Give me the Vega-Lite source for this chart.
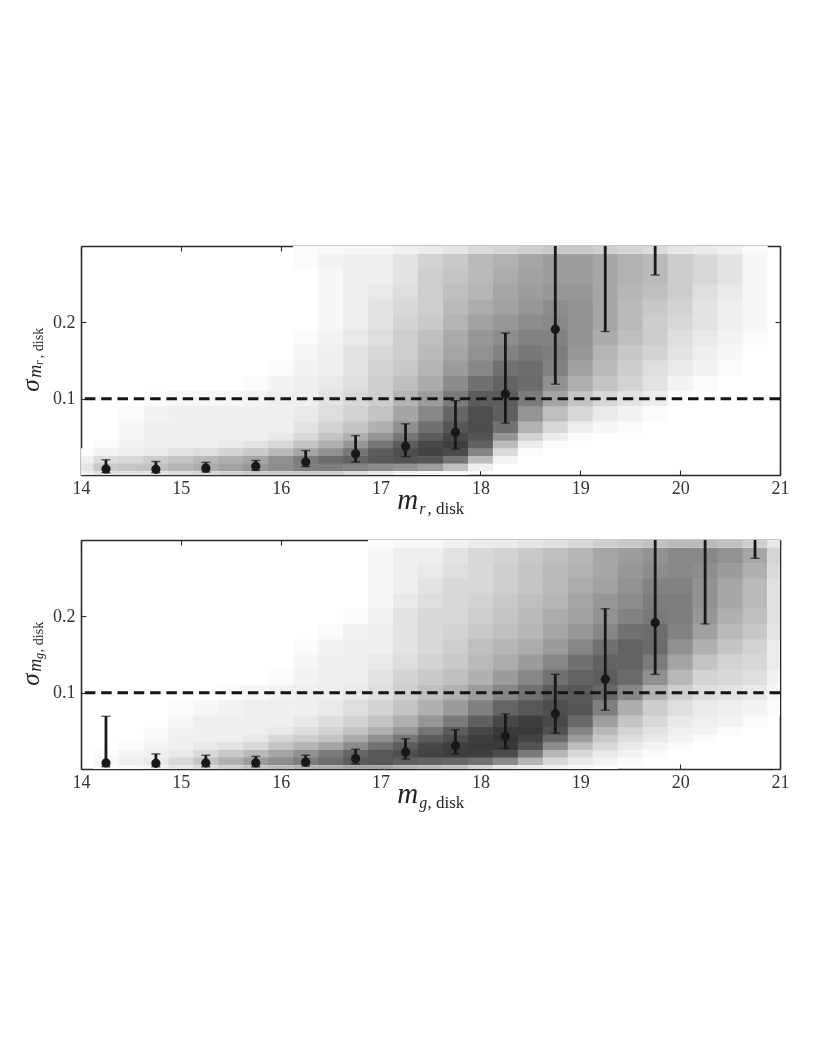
{"$schema":"https://vega.github.io/schema/vega-lite/v6.json","background":"white","padding":{"left":19,"top":245,"right":30,"bottom":5},"spacing":22,
"config":{"view":{"stroke":null},"axis":{"grid":false,"title":null,"zindex":1,"domainColor":"#2a2a2a","domainWidth":1.6,"tickColor":"#2a2a2a","tickWidth":1.1,"tickSize":-5,"labelFont":"Liberation Serif","labelFontSize":18,"labelColor":"#333333","labelFlush":false,"labelOverlap":false,"labelBound":false}},
"datasets":{
"bands":[{"s":0.005,"a":0,"b":0.015},{"s":0.015,"a":0.005,"b":0.025},{"s":0.025,"a":0.015,"b":0.035},{"s":0.035,"a":0.025,"b":0.045},{"s":0.045,"a":0.035,"b":0.055},{"s":0.055,"a":0.045,"b":0.07},{"s":0.07,"a":0.055,"b":0.09},{"s":0.09,"a":0.07,"b":0.11},{"s":0.11,"a":0.09,"b":0.13},{"s":0.13,"a":0.11,"b":0.15},{"s":0.15,"a":0.13,"b":0.17},{"s":0.17,"a":0.15,"b":0.19},{"s":0.19,"a":0.17,"b":0.21},{"s":0.21,"a":0.19,"b":0.23},{"s":0.23,"a":0.21,"b":0.25},{"s":0.25,"a":0.23,"b":0.27},{"s":0.27,"a":0.25,"b":0.29},{"s":0.29,"a":0.27,"b":0.31}],
"r":[
{"m":14.125,"s":0.005,"v":3},{"m":14.375,"s":0.005,"v":3},{"m":14.625,"s":0.005,"v":3},{"m":14.875,"s":0.005,"v":3},{"m":15.125,"s":0.005,"v":4},{"m":15.375,"s":0.005,"v":4},{"m":15.625,"s":0.005,"v":5},{"m":15.875,"s":0.005,"v":5},{"m":16.125,"s":0.005,"v":5},{"m":16.375,"s":0.005,"v":5},{"m":16.625,"s":0.005,"v":4},{"m":16.875,"s":0.005,"v":3},{"m":17.125,"s":0.005,"v":2},{"m":17.375,"s":0.005,"v":1},{"m":17.625,"s":0.005,"v":1},
{"m":14.125,"s":0.015,"v":2},{"m":14.375,"s":0.015,"v":3},{"m":14.625,"s":0.015,"v":3},{"m":14.875,"s":0.015,"v":4},{"m":15.125,"s":0.015,"v":4},{"m":15.375,"s":0.015,"v":5},{"m":15.625,"s":0.015,"v":5},{"m":15.875,"s":0.015,"v":6},{"m":16.125,"s":0.015,"v":7},{"m":16.375,"s":0.015,"v":8},{"m":16.625,"s":0.015,"v":8},{"m":16.875,"s":0.015,"v":8},{"m":17.125,"s":0.015,"v":8},{"m":17.375,"s":0.015,"v":8},{"m":17.625,"s":0.015,"v":7},{"m":17.875,"s":0.015,"v":3},
{"m":14.125,"s":0.025,"v":1},{"m":14.375,"s":0.025,"v":1},{"m":14.625,"s":0.025,"v":1},{"m":14.875,"s":0.025,"v":2},{"m":15.125,"s":0.025,"v":2},{"m":15.375,"s":0.025,"v":3},{"m":15.625,"s":0.025,"v":3},{"m":15.875,"s":0.025,"v":4},{"m":16.125,"s":0.025,"v":5},{"m":16.375,"s":0.025,"v":6},{"m":16.625,"s":0.025,"v":7},{"m":16.875,"s":0.025,"v":8},{"m":17.125,"s":0.025,"v":9},{"m":17.375,"s":0.025,"v":9},{"m":17.625,"s":0.025,"v":9},{"m":17.875,"s":0.025,"v":7},{"m":18.125,"s":0.025,"v":2},
{"m":14.375,"s":0.035,"v":1},{"m":14.625,"s":0.035,"v":1},{"m":14.875,"s":0.035,"v":1},{"m":15.125,"s":0.035,"v":1},{"m":15.375,"s":0.035,"v":1},{"m":15.625,"s":0.035,"v":2},{"m":15.875,"s":0.035,"v":2},{"m":16.125,"s":0.035,"v":3},{"m":16.375,"s":0.035,"v":4},{"m":16.625,"s":0.035,"v":5},{"m":16.875,"s":0.035,"v":7},{"m":17.125,"s":0.035,"v":8},{"m":17.375,"s":0.035,"v":9},{"m":17.625,"s":0.035,"v":10},{"m":17.875,"s":0.035,"v":9},{"m":18.125,"s":0.035,"v":4},{"m":18.375,"s":0.035,"v":1},
{"m":14.625,"s":0.045,"v":1},{"m":14.875,"s":0.045,"v":1},{"m":15.125,"s":0.045,"v":1},{"m":15.375,"s":0.045,"v":1},{"m":15.625,"s":0.045,"v":1},{"m":15.875,"s":0.045,"v":1},{"m":16.125,"s":0.045,"v":2},{"m":16.375,"s":0.045,"v":3},{"m":16.625,"s":0.045,"v":4},{"m":16.875,"s":0.045,"v":5},{"m":17.125,"s":0.045,"v":7},{"m":17.375,"s":0.045,"v":8},{"m":17.625,"s":0.045,"v":9},{"m":17.875,"s":0.045,"v":10},{"m":18.125,"s":0.045,"v":6},{"m":18.375,"s":0.045,"v":2},{"m":18.625,"s":0.045,"v":1},
{"m":14.625,"s":0.055,"v":1},{"m":14.875,"s":0.055,"v":1},{"m":15.125,"s":0.055,"v":1},{"m":15.375,"s":0.055,"v":1},{"m":15.625,"s":0.055,"v":1},{"m":15.875,"s":0.055,"v":1},{"m":16.125,"s":0.055,"v":1},{"m":16.375,"s":0.055,"v":2},{"m":16.625,"s":0.055,"v":3},{"m":16.875,"s":0.055,"v":4},{"m":17.125,"s":0.055,"v":5},{"m":17.375,"s":0.055,"v":7},{"m":17.625,"s":0.055,"v":8},{"m":17.875,"s":0.055,"v":9},{"m":18.125,"s":0.055,"v":8},{"m":18.375,"s":0.055,"v":4},{"m":18.625,"s":0.055,"v":2},{"m":18.875,"s":0.055,"v":1},
{"m":14.625,"s":0.07,"v":1},{"m":14.875,"s":0.07,"v":1},{"m":15.125,"s":0.07,"v":1},{"m":15.375,"s":0.07,"v":1},{"m":15.625,"s":0.07,"v":1},{"m":15.875,"s":0.07,"v":1},{"m":16.125,"s":0.07,"v":1},{"m":16.375,"s":0.07,"v":2},{"m":16.625,"s":0.07,"v":2},{"m":16.875,"s":0.07,"v":3},{"m":17.125,"s":0.07,"v":4},{"m":17.375,"s":0.07,"v":6},{"m":17.625,"s":0.07,"v":7},{"m":17.875,"s":0.07,"v":9},{"m":18.125,"s":0.07,"v":9},{"m":18.375,"s":0.07,"v":6},{"m":18.625,"s":0.07,"v":3},{"m":18.875,"s":0.07,"v":2},{"m":19.125,"s":0.07,"v":1},{"m":19.375,"s":0.07,"v":1},
{"m":14.875,"s":0.09,"v":1},{"m":15.125,"s":0.09,"v":1},{"m":15.375,"s":0.09,"v":1},{"m":15.625,"s":0.09,"v":1},{"m":15.875,"s":0.09,"v":1},{"m":16.125,"s":0.09,"v":1},{"m":16.375,"s":0.09,"v":1},{"m":16.625,"s":0.09,"v":2},{"m":16.875,"s":0.09,"v":2},{"m":17.125,"s":0.09,"v":3},{"m":17.375,"s":0.09,"v":5},{"m":17.625,"s":0.09,"v":6},{"m":17.875,"s":0.09,"v":8},{"m":18.125,"s":0.09,"v":9},{"m":18.375,"s":0.09,"v":7},{"m":18.625,"s":0.09,"v":5},{"m":18.875,"s":0.09,"v":3},{"m":19.125,"s":0.09,"v":2},{"m":19.375,"s":0.09,"v":1},{"m":19.625,"s":0.09,"v":1},
{"m":15.875,"s":0.11,"v":1},{"m":16.125,"s":0.11,"v":1},{"m":16.375,"s":0.11,"v":1},{"m":16.625,"s":0.11,"v":2},{"m":16.875,"s":0.11,"v":2},{"m":17.125,"s":0.11,"v":3},{"m":17.375,"s":0.11,"v":4},{"m":17.625,"s":0.11,"v":5},{"m":17.875,"s":0.11,"v":7},{"m":18.125,"s":0.11,"v":8},{"m":18.375,"s":0.11,"v":8},{"m":18.625,"s":0.11,"v":6},{"m":18.875,"s":0.11,"v":4},{"m":19.125,"s":0.11,"v":3},{"m":19.375,"s":0.11,"v":2},{"m":19.625,"s":0.11,"v":2},{"m":19.875,"s":0.11,"v":1},
{"m":16.125,"s":0.13,"v":1},{"m":16.375,"s":0.13,"v":1},{"m":16.625,"s":0.13,"v":1},{"m":16.875,"s":0.13,"v":2},{"m":17.125,"s":0.13,"v":3},{"m":17.375,"s":0.13,"v":3},{"m":17.625,"s":0.13,"v":5},{"m":17.875,"s":0.13,"v":6},{"m":18.125,"s":0.13,"v":7},{"m":18.375,"s":0.13,"v":8},{"m":18.625,"s":0.13,"v":7},{"m":18.875,"s":0.13,"v":5},{"m":19.125,"s":0.13,"v":4},{"m":19.375,"s":0.13,"v":3},{"m":19.625,"s":0.13,"v":2},{"m":19.875,"s":0.13,"v":1},{"m":20.125,"s":0.13,"v":1},
{"m":16.375,"s":0.15,"v":1},{"m":16.625,"s":0.15,"v":1},{"m":16.875,"s":0.15,"v":2},{"m":17.125,"s":0.15,"v":2},{"m":17.375,"s":0.15,"v":3},{"m":17.625,"s":0.15,"v":4},{"m":17.875,"s":0.15,"v":5},{"m":18.125,"s":0.15,"v":6},{"m":18.375,"s":0.15,"v":7},{"m":18.625,"s":0.15,"v":7},{"m":18.875,"s":0.15,"v":6},{"m":19.125,"s":0.15,"v":4},{"m":19.375,"s":0.15,"v":3},{"m":19.625,"s":0.15,"v":2},{"m":19.875,"s":0.15,"v":2},{"m":20.125,"s":0.15,"v":1},{"m":20.375,"s":0.15,"v":1},
{"m":16.375,"s":0.17,"v":1},{"m":16.625,"s":0.17,"v":1},{"m":16.875,"s":0.17,"v":2},{"m":17.125,"s":0.17,"v":2},{"m":17.375,"s":0.17,"v":3},{"m":17.625,"s":0.17,"v":4},{"m":17.875,"s":0.17,"v":5},{"m":18.125,"s":0.17,"v":6},{"m":18.375,"s":0.17,"v":6},{"m":18.625,"s":0.17,"v":7},{"m":18.875,"s":0.17,"v":6},{"m":19.125,"s":0.17,"v":5},{"m":19.375,"s":0.17,"v":3},{"m":19.625,"s":0.17,"v":3},{"m":19.875,"s":0.17,"v":2},{"m":20.125,"s":0.17,"v":1},{"m":20.375,"s":0.17,"v":1},
{"m":16.625,"s":0.19,"v":1},{"m":16.875,"s":0.19,"v":1},{"m":17.125,"s":0.19,"v":2},{"m":17.375,"s":0.19,"v":3},{"m":17.625,"s":0.19,"v":3},{"m":17.875,"s":0.19,"v":5},{"m":18.125,"s":0.19,"v":5},{"m":18.375,"s":0.19,"v":6},{"m":18.625,"s":0.19,"v":6},{"m":18.875,"s":0.19,"v":6},{"m":19.125,"s":0.19,"v":5},{"m":19.375,"s":0.19,"v":4},{"m":19.625,"s":0.19,"v":3},{"m":19.875,"s":0.19,"v":2},{"m":20.125,"s":0.19,"v":2},{"m":20.375,"s":0.19,"v":1},{"m":20.625,"s":0.19,"v":1},
{"m":16.625,"s":0.21,"v":1},{"m":16.875,"s":0.21,"v":1},{"m":17.125,"s":0.21,"v":2},{"m":17.375,"s":0.21,"v":2},{"m":17.625,"s":0.21,"v":3},{"m":17.875,"s":0.21,"v":4},{"m":18.125,"s":0.21,"v":5},{"m":18.375,"s":0.21,"v":5},{"m":18.625,"s":0.21,"v":6},{"m":18.875,"s":0.21,"v":6},{"m":19.125,"s":0.21,"v":5},{"m":19.375,"s":0.21,"v":4},{"m":19.625,"s":0.21,"v":3},{"m":19.875,"s":0.21,"v":2},{"m":20.125,"s":0.21,"v":2},{"m":20.375,"s":0.21,"v":1},{"m":20.625,"s":0.21,"v":1},
{"m":16.625,"s":0.23,"v":1},{"m":16.875,"s":0.23,"v":1},{"m":17.125,"s":0.23,"v":2},{"m":17.375,"s":0.23,"v":2},{"m":17.625,"s":0.23,"v":3},{"m":17.875,"s":0.23,"v":4},{"m":18.125,"s":0.23,"v":4},{"m":18.375,"s":0.23,"v":5},{"m":18.625,"s":0.23,"v":5},{"m":18.875,"s":0.23,"v":6},{"m":19.125,"s":0.23,"v":5},{"m":19.375,"s":0.23,"v":4},{"m":19.625,"s":0.23,"v":3},{"m":19.875,"s":0.23,"v":3},{"m":20.125,"s":0.23,"v":2},{"m":20.375,"s":0.23,"v":1},{"m":20.625,"s":0.23,"v":1},
{"m":16.625,"s":0.25,"v":1},{"m":16.875,"s":0.25,"v":1},{"m":17.125,"s":0.25,"v":1},{"m":17.375,"s":0.25,"v":2},{"m":17.625,"s":0.25,"v":3},{"m":17.875,"s":0.25,"v":3},{"m":18.125,"s":0.25,"v":4},{"m":18.375,"s":0.25,"v":5},{"m":18.625,"s":0.25,"v":5},{"m":18.875,"s":0.25,"v":5},{"m":19.125,"s":0.25,"v":5},{"m":19.375,"s":0.25,"v":4},{"m":19.625,"s":0.25,"v":4},{"m":19.875,"s":0.25,"v":3},{"m":20.125,"s":0.25,"v":2},{"m":20.375,"s":0.25,"v":2},{"m":20.625,"s":0.25,"v":1},
{"m":16.625,"s":0.27,"v":1},{"m":16.875,"s":0.27,"v":1},{"m":17.125,"s":0.27,"v":1},{"m":17.375,"s":0.27,"v":2},{"m":17.625,"s":0.27,"v":3},{"m":17.875,"s":0.27,"v":3},{"m":18.125,"s":0.27,"v":4},{"m":18.375,"s":0.27,"v":4},{"m":18.625,"s":0.27,"v":5},{"m":18.875,"s":0.27,"v":5},{"m":19.125,"s":0.27,"v":5},{"m":19.375,"s":0.27,"v":4},{"m":19.625,"s":0.27,"v":4},{"m":19.875,"s":0.27,"v":3},{"m":20.125,"s":0.27,"v":2},{"m":20.375,"s":0.27,"v":2},{"m":20.625,"s":0.27,"v":1},
{"m":16.375,"s":0.29,"v":1},{"m":16.625,"s":0.29,"v":1},{"m":16.875,"s":0.29,"v":1},{"m":17.125,"s":0.29,"v":1},{"m":17.375,"s":0.29,"v":2},{"m":17.625,"s":0.29,"v":2},{"m":17.875,"s":0.29,"v":3},{"m":18.125,"s":0.29,"v":4},{"m":18.375,"s":0.29,"v":4},{"m":18.625,"s":0.29,"v":5},{"m":18.875,"s":0.29,"v":5},{"m":19.125,"s":0.29,"v":5},{"m":19.375,"s":0.29,"v":4},{"m":19.625,"s":0.29,"v":4},{"m":19.875,"s":0.29,"v":3},{"m":20.125,"s":0.29,"v":2},{"m":20.375,"s":0.29,"v":2},{"m":20.625,"s":0.29,"v":1}
],
"g":[
{"m":14.375,"s":0.005,"v":1},{"m":14.625,"s":0.005,"v":1},{"m":14.875,"s":0.005,"v":2},{"m":15.125,"s":0.005,"v":3},{"m":15.375,"s":0.005,"v":4},{"m":15.625,"s":0.005,"v":5},{"m":15.875,"s":0.005,"v":6},{"m":16.125,"s":0.005,"v":6},{"m":16.375,"s":0.005,"v":7},{"m":16.625,"s":0.005,"v":7},{"m":16.875,"s":0.005,"v":8},{"m":17.125,"s":0.005,"v":7},{"m":17.375,"s":0.005,"v":6},{"m":17.625,"s":0.005,"v":6},{"m":17.875,"s":0.005,"v":5},{"m":18.125,"s":0.005,"v":3},{"m":18.375,"s":0.005,"v":2},{"m":18.625,"s":0.005,"v":2},{"m":18.875,"s":0.005,"v":1},{"m":19.125,"s":0.005,"v":1},
{"m":14.375,"s":0.015,"v":1},{"m":14.625,"s":0.015,"v":1},{"m":14.875,"s":0.015,"v":1},{"m":15.125,"s":0.015,"v":2},{"m":15.375,"s":0.015,"v":3},{"m":15.625,"s":0.015,"v":4},{"m":15.875,"s":0.015,"v":5},{"m":16.125,"s":0.015,"v":6},{"m":16.375,"s":0.015,"v":7},{"m":16.625,"s":0.015,"v":8},{"m":16.875,"s":0.015,"v":9},{"m":17.125,"s":0.015,"v":9},{"m":17.375,"s":0.015,"v":9},{"m":17.625,"s":0.015,"v":9},{"m":17.875,"s":0.015,"v":9},{"m":18.125,"s":0.015,"v":9},{"m":18.375,"s":0.015,"v":7},{"m":18.625,"s":0.015,"v":3},{"m":18.875,"s":0.015,"v":2},{"m":19.125,"s":0.015,"v":1},{"m":19.375,"s":0.015,"v":1},
{"m":14.625,"s":0.025,"v":1},{"m":14.875,"s":0.025,"v":1},{"m":15.125,"s":0.025,"v":1},{"m":15.375,"s":0.025,"v":2},{"m":15.625,"s":0.025,"v":2},{"m":15.875,"s":0.025,"v":3},{"m":16.125,"s":0.025,"v":4},{"m":16.375,"s":0.025,"v":5},{"m":16.625,"s":0.025,"v":6},{"m":16.875,"s":0.025,"v":7},{"m":17.125,"s":0.025,"v":8},{"m":17.375,"s":0.025,"v":9},{"m":17.625,"s":0.025,"v":10},{"m":17.875,"s":0.025,"v":10},{"m":18.125,"s":0.025,"v":10},{"m":18.375,"s":0.025,"v":9},{"m":18.625,"s":0.025,"v":6},{"m":18.875,"s":0.025,"v":3},{"m":19.125,"s":0.025,"v":2},{"m":19.375,"s":0.025,"v":1},{"m":19.625,"s":0.025,"v":1},
{"m":14.875,"s":0.035,"v":1},{"m":15.125,"s":0.035,"v":1},{"m":15.375,"s":0.035,"v":1},{"m":15.625,"s":0.035,"v":1},{"m":15.875,"s":0.035,"v":2},{"m":16.125,"s":0.035,"v":3},{"m":16.375,"s":0.035,"v":3},{"m":16.625,"s":0.035,"v":4},{"m":16.875,"s":0.035,"v":6},{"m":17.125,"s":0.035,"v":7},{"m":17.375,"s":0.035,"v":8},{"m":17.625,"s":0.035,"v":9},{"m":17.875,"s":0.035,"v":9},{"m":18.125,"s":0.035,"v":10},{"m":18.375,"s":0.035,"v":10},{"m":18.625,"s":0.035,"v":8},{"m":18.875,"s":0.035,"v":5},{"m":19.125,"s":0.035,"v":3},{"m":19.375,"s":0.035,"v":2},{"m":19.625,"s":0.035,"v":1},{"m":19.875,"s":0.035,"v":1},
{"m":14.875,"s":0.045,"v":1},{"m":15.125,"s":0.045,"v":1},{"m":15.375,"s":0.045,"v":1},{"m":15.625,"s":0.045,"v":1},{"m":15.875,"s":0.045,"v":1},{"m":16.125,"s":0.045,"v":2},{"m":16.375,"s":0.045,"v":2},{"m":16.625,"s":0.045,"v":3},{"m":16.875,"s":0.045,"v":4},{"m":17.125,"s":0.045,"v":5},{"m":17.375,"s":0.045,"v":7},{"m":17.625,"s":0.045,"v":8},{"m":17.875,"s":0.045,"v":9},{"m":18.125,"s":0.045,"v":10},{"m":18.375,"s":0.045,"v":10},{"m":18.625,"s":0.045,"v":9},{"m":18.875,"s":0.045,"v":7},{"m":19.125,"s":0.045,"v":4},{"m":19.375,"s":0.045,"v":2},{"m":19.625,"s":0.045,"v":2},{"m":19.875,"s":0.045,"v":1},{"m":20.125,"s":0.045,"v":1},
{"m":15.125,"s":0.055,"v":1},{"m":15.375,"s":0.055,"v":1},{"m":15.625,"s":0.055,"v":1},{"m":15.875,"s":0.055,"v":1},{"m":16.125,"s":0.055,"v":1},{"m":16.375,"s":0.055,"v":2},{"m":16.625,"s":0.055,"v":2},{"m":16.875,"s":0.055,"v":3},{"m":17.125,"s":0.055,"v":4},{"m":17.375,"s":0.055,"v":5},{"m":17.625,"s":0.055,"v":7},{"m":17.875,"s":0.055,"v":8},{"m":18.125,"s":0.055,"v":9},{"m":18.375,"s":0.055,"v":10},{"m":18.625,"s":0.055,"v":10},{"m":18.875,"s":0.055,"v":8},{"m":19.125,"s":0.055,"v":5},{"m":19.375,"s":0.055,"v":3},{"m":19.625,"s":0.055,"v":2},{"m":19.875,"s":0.055,"v":1},{"m":20.125,"s":0.055,"v":1},{"m":20.375,"s":0.055,"v":1},
{"m":15.125,"s":0.07,"v":1},{"m":15.375,"s":0.07,"v":1},{"m":15.625,"s":0.07,"v":1},{"m":15.875,"s":0.07,"v":1},{"m":16.125,"s":0.07,"v":1},{"m":16.375,"s":0.07,"v":1},{"m":16.625,"s":0.07,"v":2},{"m":16.875,"s":0.07,"v":2},{"m":17.125,"s":0.07,"v":3},{"m":17.375,"s":0.07,"v":4},{"m":17.625,"s":0.07,"v":5},{"m":17.875,"s":0.07,"v":6},{"m":18.125,"s":0.07,"v":8},{"m":18.375,"s":0.07,"v":9},{"m":18.625,"s":0.07,"v":9},{"m":18.875,"s":0.07,"v":9},{"m":19.125,"s":0.07,"v":7},{"m":19.375,"s":0.07,"v":4},{"m":19.625,"s":0.07,"v":3},{"m":19.875,"s":0.07,"v":2},{"m":20.125,"s":0.07,"v":1},{"m":20.375,"s":0.07,"v":1},{"m":20.625,"s":0.07,"v":1},
{"m":15.625,"s":0.09,"v":1},{"m":15.875,"s":0.09,"v":1},{"m":16.125,"s":0.09,"v":1},{"m":16.375,"s":0.09,"v":1},{"m":16.625,"s":0.09,"v":1},{"m":16.875,"s":0.09,"v":2},{"m":17.125,"s":0.09,"v":2},{"m":17.375,"s":0.09,"v":3},{"m":17.625,"s":0.09,"v":4},{"m":17.875,"s":0.09,"v":5},{"m":18.125,"s":0.09,"v":6},{"m":18.375,"s":0.09,"v":7},{"m":18.625,"s":0.09,"v":8},{"m":18.875,"s":0.09,"v":9},{"m":19.125,"s":0.09,"v":8},{"m":19.375,"s":0.09,"v":6},{"m":19.625,"s":0.09,"v":3},{"m":19.875,"s":0.09,"v":2},{"m":20.125,"s":0.09,"v":2},{"m":20.375,"s":0.09,"v":1},{"m":20.625,"s":0.09,"v":1},{"m":20.875,"s":0.09,"v":1},
{"m":16.125,"s":0.11,"v":1},{"m":16.375,"s":0.11,"v":1},{"m":16.625,"s":0.11,"v":1},{"m":16.875,"s":0.11,"v":1},{"m":17.125,"s":0.11,"v":2},{"m":17.375,"s":0.11,"v":3},{"m":17.625,"s":0.11,"v":3},{"m":17.875,"s":0.11,"v":4},{"m":18.125,"s":0.11,"v":5},{"m":18.375,"s":0.11,"v":6},{"m":18.625,"s":0.11,"v":7},{"m":18.875,"s":0.11,"v":8},{"m":19.125,"s":0.11,"v":8},{"m":19.375,"s":0.11,"v":8},{"m":19.625,"s":0.11,"v":6},{"m":19.875,"s":0.11,"v":4},{"m":20.125,"s":0.11,"v":2},{"m":20.375,"s":0.11,"v":2},{"m":20.625,"s":0.11,"v":2},{"m":20.875,"s":0.11,"v":1},
{"m":16.375,"s":0.13,"v":1},{"m":16.625,"s":0.13,"v":1},{"m":16.875,"s":0.13,"v":1},{"m":17.125,"s":0.13,"v":2},{"m":17.375,"s":0.13,"v":2},{"m":17.625,"s":0.13,"v":3},{"m":17.875,"s":0.13,"v":3},{"m":18.125,"s":0.13,"v":4},{"m":18.375,"s":0.13,"v":5},{"m":18.625,"s":0.13,"v":6},{"m":18.875,"s":0.13,"v":7},{"m":19.125,"s":0.13,"v":8},{"m":19.375,"s":0.13,"v":8},{"m":19.625,"s":0.13,"v":7},{"m":19.875,"s":0.13,"v":5},{"m":20.125,"s":0.13,"v":3},{"m":20.375,"s":0.13,"v":2},{"m":20.625,"s":0.13,"v":2},{"m":20.875,"s":0.13,"v":2},
{"m":16.375,"s":0.15,"v":1},{"m":16.625,"s":0.15,"v":1},{"m":16.875,"s":0.15,"v":1},{"m":17.125,"s":0.15,"v":1},{"m":17.375,"s":0.15,"v":2},{"m":17.625,"s":0.15,"v":2},{"m":17.875,"s":0.15,"v":3},{"m":18.125,"s":0.15,"v":4},{"m":18.375,"s":0.15,"v":4},{"m":18.625,"s":0.15,"v":5},{"m":18.875,"s":0.15,"v":6},{"m":19.125,"s":0.15,"v":7},{"m":19.375,"s":0.15,"v":8},{"m":19.625,"s":0.15,"v":8},{"m":19.875,"s":0.15,"v":6},{"m":20.125,"s":0.15,"v":4},{"m":20.375,"s":0.15,"v":3},{"m":20.625,"s":0.15,"v":2},{"m":20.875,"s":0.15,"v":2},
{"m":16.625,"s":0.17,"v":1},{"m":16.875,"s":0.17,"v":1},{"m":17.125,"s":0.17,"v":1},{"m":17.375,"s":0.17,"v":2},{"m":17.625,"s":0.17,"v":2},{"m":17.875,"s":0.17,"v":3},{"m":18.125,"s":0.17,"v":3},{"m":18.375,"s":0.17,"v":4},{"m":18.625,"s":0.17,"v":4},{"m":18.875,"s":0.17,"v":5},{"m":19.125,"s":0.17,"v":6},{"m":19.375,"s":0.17,"v":7},{"m":19.625,"s":0.17,"v":8},{"m":19.875,"s":0.17,"v":7},{"m":20.125,"s":0.17,"v":5},{"m":20.375,"s":0.17,"v":4},{"m":20.625,"s":0.17,"v":3},{"m":20.875,"s":0.17,"v":2},
{"m":16.875,"s":0.19,"v":1},{"m":17.125,"s":0.19,"v":1},{"m":17.375,"s":0.19,"v":2},{"m":17.625,"s":0.19,"v":2},{"m":17.875,"s":0.19,"v":2},{"m":18.125,"s":0.19,"v":3},{"m":18.375,"s":0.19,"v":3},{"m":18.625,"s":0.19,"v":4},{"m":18.875,"s":0.19,"v":5},{"m":19.125,"s":0.19,"v":5},{"m":19.375,"s":0.19,"v":6},{"m":19.625,"s":0.19,"v":7},{"m":19.875,"s":0.19,"v":7},{"m":20.125,"s":0.19,"v":6},{"m":20.375,"s":0.19,"v":4},{"m":20.625,"s":0.19,"v":3},{"m":20.875,"s":0.19,"v":3},
{"m":17.125,"s":0.21,"v":1},{"m":17.375,"s":0.21,"v":2},{"m":17.625,"s":0.21,"v":2},{"m":17.875,"s":0.21,"v":2},{"m":18.125,"s":0.21,"v":3},{"m":18.375,"s":0.21,"v":3},{"m":18.625,"s":0.21,"v":4},{"m":18.875,"s":0.21,"v":4},{"m":19.125,"s":0.21,"v":5},{"m":19.375,"s":0.21,"v":6},{"m":19.625,"s":0.21,"v":6},{"m":19.875,"s":0.21,"v":7},{"m":20.125,"s":0.21,"v":6},{"m":20.375,"s":0.21,"v":5},{"m":20.625,"s":0.21,"v":4},{"m":20.875,"s":0.21,"v":3},
{"m":17.125,"s":0.23,"v":1},{"m":17.375,"s":0.23,"v":1},{"m":17.625,"s":0.23,"v":2},{"m":17.875,"s":0.23,"v":2},{"m":18.125,"s":0.23,"v":2},{"m":18.375,"s":0.23,"v":3},{"m":18.625,"s":0.23,"v":3},{"m":18.875,"s":0.23,"v":4},{"m":19.125,"s":0.23,"v":5},{"m":19.375,"s":0.23,"v":5},{"m":19.625,"s":0.23,"v":6},{"m":19.875,"s":0.23,"v":7},{"m":20.125,"s":0.23,"v":6},{"m":20.375,"s":0.23,"v":5},{"m":20.625,"s":0.23,"v":4},{"m":20.875,"s":0.23,"v":3},
{"m":17.125,"s":0.25,"v":1},{"m":17.375,"s":0.25,"v":1},{"m":17.625,"s":0.25,"v":2},{"m":17.875,"s":0.25,"v":2},{"m":18.125,"s":0.25,"v":2},{"m":18.375,"s":0.25,"v":3},{"m":18.625,"s":0.25,"v":3},{"m":18.875,"s":0.25,"v":4},{"m":19.125,"s":0.25,"v":4},{"m":19.375,"s":0.25,"v":5},{"m":19.625,"s":0.25,"v":6},{"m":19.875,"s":0.25,"v":6},{"m":20.125,"s":0.25,"v":6},{"m":20.375,"s":0.25,"v":5},{"m":20.625,"s":0.25,"v":4},{"m":20.875,"s":0.25,"v":3},
{"m":17.125,"s":0.27,"v":1},{"m":17.375,"s":0.27,"v":1},{"m":17.625,"s":0.27,"v":1},{"m":17.875,"s":0.27,"v":2},{"m":18.125,"s":0.27,"v":2},{"m":18.375,"s":0.27,"v":3},{"m":18.625,"s":0.27,"v":3},{"m":18.875,"s":0.27,"v":4},{"m":19.125,"s":0.27,"v":4},{"m":19.375,"s":0.27,"v":5},{"m":19.625,"s":0.27,"v":5},{"m":19.875,"s":0.27,"v":6},{"m":20.125,"s":0.27,"v":6},{"m":20.375,"s":0.27,"v":6},{"m":20.625,"s":0.27,"v":5},{"m":20.875,"s":0.27,"v":4},
{"m":17.125,"s":0.29,"v":1},{"m":17.375,"s":0.29,"v":1},{"m":17.625,"s":0.29,"v":1},{"m":17.875,"s":0.29,"v":2},{"m":18.125,"s":0.29,"v":2},{"m":18.375,"s":0.29,"v":2},{"m":18.625,"s":0.29,"v":3},{"m":18.875,"s":0.29,"v":3},{"m":19.125,"s":0.29,"v":4},{"m":19.375,"s":0.29,"v":5},{"m":19.625,"s":0.29,"v":5},{"m":19.875,"s":0.29,"v":6},{"m":20.125,"s":0.29,"v":6},{"m":20.375,"s":0.29,"v":6},{"m":20.625,"s":0.29,"v":5},{"m":20.875,"s":0.29,"v":4}
],
"re":[{"m":14.25,"p":0.008,"lo":0.003,"hi":0.02},{"m":14.75,"p":0.0075,"lo":0.003,"hi":0.0177},{"m":15.25,"p":0.009,"lo":0.004,"hi":0.0165},{"m":15.75,"p":0.0115,"lo":0.006,"hi":0.019},{"m":16.25,"p":0.017,"lo":0.011,"hi":0.032},{"m":16.75,"p":0.0277,"lo":0.017,"hi":0.0516},{"m":17.25,"p":0.0377,"lo":0.024,"hi":0.067},{"m":17.75,"p":0.056,"lo":0.034,"hi":0.0974},{"m":18.25,"p":0.106,"lo":0.068,"hi":0.186},{"m":18.75,"p":0.191,"lo":0.119,"hi":0.33},{"m":19.25,"p":0.32,"lo":0.188,"hi":0.4},{"m":19.75,"p":0.38,"lo":0.262,"hi":0.45}],
"ge":[{"m":14.25,"p":0.008,"lo":0.003,"hi":0.069},{"m":14.75,"p":0.0075,"lo":0.003,"hi":0.0197},{"m":15.25,"p":0.008,"lo":0.003,"hi":0.018},{"m":15.75,"p":0.008,"lo":0.003,"hi":0.0165},{"m":16.25,"p":0.009,"lo":0.004,"hi":0.018},{"m":16.75,"p":0.0136,"lo":0.0067,"hi":0.026},{"m":17.25,"p":0.0223,"lo":0.013,"hi":0.0397},{"m":17.75,"p":0.0306,"lo":0.0197,"hi":0.0514},{"m":18.25,"p":0.0428,"lo":0.027,"hi":0.072},{"m":18.75,"p":0.0724,"lo":0.047,"hi":0.124},{"m":19.25,"p":0.1177,"lo":0.077,"hi":0.21},{"m":19.75,"p":0.1917,"lo":0.124,"hi":0.33},{"m":20.25,"p":0.32,"lo":0.19,"hi":0.4},{"m":20.75,"p":0.4,"lo":0.276,"hi":0.5}]
},
"vconcat":[
{"width":699,"height":229,"resolve":{"axis":{"x":"independent","y":"independent"}},"layer":[
{"data":{"name":"r"},"transform":[{"lookup":"s","from":{"data":{"name":"bands"},"key":"s","fields":["a","b"]}}],"mark":{"type":"rect","width":49.9,"clip":true,"blend":"multiply"},"encoding":{"x":{"field":"m","type":"quantitative","scale":{"domain":[14,21],"nice":false},"axis":{"orient":"bottom","values":[14,15,16,17,18,19,20,21],"format":"d","labelPadding":9}},"y":{"field":"a","type":"quantitative","scale":{"domain":[0,0.3],"nice":false},"axis":{"orient":"left","values":[0.1,0.2],"format":".1f","labelPadding":11}},"y2":{"field":"b"},"color":{"field":"v","type":"quantitative","legend":null,"scale":{"domain":[0,1,2,3,4,5,6,7,8,9,10],"range":["#ffffff","#fbfbfb","#f5f5f5","#efefef","#e9e9e9","#e2e2e2","#dadada","#d1d1d1","#c6c6c6","#bababa","#acacac"]}}}},
{"data":{"name":"r"},"transform":[{"filter":"datum.s==0.005"}],"mark":{"type":"rect","width":49.9,"clip":true,"blend":"multiply"},"encoding":{"x":{"field":"m","type":"quantitative","scale":{"domain":[14,21],"nice":false},"axis":null},"y":{"datum":0,"type":"quantitative","scale":{"domain":[0,0.3],"nice":false},"axis":null},"y2":{"datum":0.005},"color":{"field":"v","type":"quantitative","legend":null,"scale":{"domain":[0,1,2,3,4,5,6,7,8,9,10],"range":["#ffffff","#fbfbfb","#f5f5f5","#efefef","#e9e9e9","#e2e2e2","#dadada","#d1d1d1","#c6c6c6","#bababa","#acacac"]}}}},
{"data":{"name":"r"},"transform":[{"filter":"datum.s==0.29"}],"mark":{"type":"rect","width":49.9,"clip":true,"blend":"multiply"},"encoding":{"x":{"field":"m","type":"quantitative","scale":{"domain":[14,21],"nice":false},"axis":null},"y":{"datum":0.29,"type":"quantitative","scale":{"domain":[0,0.3],"nice":false},"axis":null},"y2":{"datum":0.3},"color":{"field":"v","type":"quantitative","legend":null,"scale":{"domain":[0,1,2,3,4,5,6,7,8,9,10],"range":["#ffffff","#fbfbfb","#f5f5f5","#efefef","#e9e9e9","#e2e2e2","#dadada","#d1d1d1","#c6c6c6","#bababa","#acacac"]}}}},
{"data":{"values":[{}]},"mark":{"type":"rule","color":"#151515","strokeWidth":3,"strokeDash":[10.5,5.8]},"encoding":{"y":{"datum":0.1,"type":"quantitative","scale":{"domain":[0,0.3],"nice":false},"axis":null}}},
{"data":{"name":"re"},"mark":{"type":"rule","color":"#1c1618","strokeWidth":2.8,"clip":true},"encoding":{"x":{"field":"m","type":"quantitative","scale":{"domain":[14,21],"nice":false},"axis":null},"y":{"field":"lo","type":"quantitative","scale":{"domain":[0,0.3],"nice":false},"axis":null},"y2":{"field":"hi"}}},
{"data":{"name":"re"},"mark":{"type":"tick","color":"#1c1618","thickness":1.4,"size":9,"orient":"horizontal","clip":true},"encoding":{"x":{"field":"m","type":"quantitative","scale":{"domain":[14,21],"nice":false},"axis":null},"y":{"field":"hi","type":"quantitative","scale":{"domain":[0,0.3],"nice":false},"axis":null}}},
{"data":{"name":"re"},"mark":{"type":"tick","color":"#1c1618","thickness":1.4,"size":9,"orient":"horizontal","clip":true},"encoding":{"x":{"field":"m","type":"quantitative","scale":{"domain":[14,21],"nice":false},"axis":null},"y":{"field":"lo","type":"quantitative","scale":{"domain":[0,0.3],"nice":false},"axis":null}}},
{"data":{"name":"re"},"mark":{"type":"point","filled":true,"opacity":1,"color":"#1c1618","size":85,"clip":true},"encoding":{"x":{"field":"m","type":"quantitative","scale":{"domain":[14,21],"nice":false},"axis":{"orient":"top","values":[14,15,16,17,18,19,20,21],"labels":false}},"y":{"field":"p","type":"quantitative","scale":{"domain":[0,0.3],"nice":false},"axis":{"orient":"right","values":[0.1,0.2],"labels":false}}}},
{"data":{"values":[{}]},"mark":{"type":"text","text":"m","font":"Liberation Serif","fontStyle":"italic","fontSize":29,"align":"left","baseline":"alphabetic","color":"#222222"},"encoding":{"x":{"datum":17.166,"type":"quantitative","scale":{"domain":[14,21],"nice":false},"axis":null},"y":{"datum":-0.0451,"type":"quantitative","scale":{"domain":[0,0.3],"nice":false},"axis":null}}},
{"data":{"values":[{}]},"mark":{"type":"text","text":"r","font":"Liberation Serif","fontStyle":"italic","fontSize":16,"align":"left","baseline":"alphabetic","color":"#222222"},"encoding":{"x":{"datum":17.387,"type":"quantitative","scale":{"domain":[14,21],"nice":false},"axis":null},"y":{"datum":-0.051,"type":"quantitative","scale":{"domain":[0,0.3],"nice":false},"axis":null}}},
{"data":{"values":[{}]},"mark":{"type":"text","text":", disk","font":"Liberation Serif","fontSize":17,"align":"left","baseline":"alphabetic","color":"#222222"},"encoding":{"x":{"datum":17.47,"type":"quantitative","scale":{"domain":[14,21],"nice":false},"axis":null},"y":{"datum":-0.051,"type":"quantitative","scale":{"domain":[0,0.3],"nice":false},"axis":null}}},
{"data":{"values":[{}]},"mark":{"type":"text","text":"σ","font":"Liberation Serif","fontStyle":"italic","fontSize":25,"align":"left","baseline":"alphabetic","angle":270,"color":"#222222"},"encoding":{"x":{"datum":13.58,"type":"quantitative","scale":{"domain":[14,21],"nice":false},"axis":null},"y":{"datum":0.109,"type":"quantitative","scale":{"domain":[0,0.3],"nice":false},"axis":null}}},
{"data":{"values":[{}]},"mark":{"type":"text","text":"m","font":"Liberation Serif","fontStyle":"italic","fontSize":18,"align":"left","baseline":"alphabetic","angle":270,"color":"#222222"},"encoding":{"x":{"datum":13.6,"type":"quantitative","scale":{"domain":[14,21],"nice":false},"axis":null},"y":{"datum":0.1275,"type":"quantitative","scale":{"domain":[0,0.3],"nice":false},"axis":null}}},
{"data":{"values":[{}]},"mark":{"type":"text","text":"r","font":"Liberation Serif","fontStyle":"italic","fontSize":12,"align":"left","baseline":"alphabetic","angle":270,"color":"#222222"},"encoding":{"x":{"datum":13.62,"type":"quantitative","scale":{"domain":[14,21],"nice":false},"axis":null},"y":{"datum":0.144,"type":"quantitative","scale":{"domain":[0,0.3],"nice":false},"axis":null}}},
{"data":{"values":[{}]},"mark":{"type":"text","text":", disk","font":"Liberation Serif","fontSize":14,"align":"left","baseline":"alphabetic","angle":270,"color":"#222222"},"encoding":{"x":{"datum":13.62,"type":"quantitative","scale":{"domain":[14,21],"nice":false},"axis":null},"y":{"datum":0.153,"type":"quantitative","scale":{"domain":[0,0.3],"nice":false},"axis":null}}}
]},
{"width":699,"height":229,"resolve":{"axis":{"x":"independent","y":"independent"}},"layer":[
{"data":{"name":"g"},"transform":[{"lookup":"s","from":{"data":{"name":"bands"},"key":"s","fields":["a","b"]}}],"mark":{"type":"rect","width":49.9,"clip":true,"blend":"multiply"},"encoding":{"x":{"field":"m","type":"quantitative","scale":{"domain":[14,21],"nice":false},"axis":{"orient":"bottom","values":[14,15,16,17,18,19,20,21],"format":"d","labelPadding":9}},"y":{"field":"a","type":"quantitative","scale":{"domain":[0,0.3],"nice":false},"axis":{"orient":"left","values":[0.1,0.2],"format":".1f","labelPadding":11}},"y2":{"field":"b"},"color":{"field":"v","type":"quantitative","legend":null,"scale":{"domain":[0,1,2,3,4,5,6,7,8,9,10],"range":["#ffffff","#fbfbfb","#f5f5f5","#efefef","#e9e9e9","#e2e2e2","#dadada","#d1d1d1","#c6c6c6","#bababa","#acacac"]}}}},
{"data":{"name":"g"},"transform":[{"filter":"datum.s==0.005"}],"mark":{"type":"rect","width":49.9,"clip":true,"blend":"multiply"},"encoding":{"x":{"field":"m","type":"quantitative","scale":{"domain":[14,21],"nice":false},"axis":null},"y":{"datum":0,"type":"quantitative","scale":{"domain":[0,0.3],"nice":false},"axis":null},"y2":{"datum":0.005},"color":{"field":"v","type":"quantitative","legend":null,"scale":{"domain":[0,1,2,3,4,5,6,7,8,9,10],"range":["#ffffff","#fbfbfb","#f5f5f5","#efefef","#e9e9e9","#e2e2e2","#dadada","#d1d1d1","#c6c6c6","#bababa","#acacac"]}}}},
{"data":{"name":"g"},"transform":[{"filter":"datum.s==0.29"}],"mark":{"type":"rect","width":49.9,"clip":true,"blend":"multiply"},"encoding":{"x":{"field":"m","type":"quantitative","scale":{"domain":[14,21],"nice":false},"axis":null},"y":{"datum":0.29,"type":"quantitative","scale":{"domain":[0,0.3],"nice":false},"axis":null},"y2":{"datum":0.3},"color":{"field":"v","type":"quantitative","legend":null,"scale":{"domain":[0,1,2,3,4,5,6,7,8,9,10],"range":["#ffffff","#fbfbfb","#f5f5f5","#efefef","#e9e9e9","#e2e2e2","#dadada","#d1d1d1","#c6c6c6","#bababa","#acacac"]}}}},
{"data":{"name":"g"},"transform":[{"filter":"datum.m==20.875"},{"lookup":"s","from":{"data":{"name":"bands"},"key":"s","fields":["a","b"]}}],"mark":{"type":"rect","clip":true,"blend":"multiply"},"encoding":{"x":{"datum":20.875,"type":"quantitative","scale":{"domain":[14,21],"nice":false},"axis":null},"x2":{"datum":21},"y":{"field":"a","type":"quantitative","scale":{"domain":[0,0.3],"nice":false},"axis":null},"y2":{"field":"b"},"color":{"field":"v","type":"quantitative","legend":null,"scale":{"domain":[0,1,2,3,4,5,6,7,8,9,10],"range":["#ffffff","#fbfbfb","#f5f5f5","#efefef","#e9e9e9","#e2e2e2","#dadada","#d1d1d1","#c6c6c6","#bababa","#acacac"]}}}},
{"data":{"values":[{}]},"mark":{"type":"rule","color":"#151515","strokeWidth":3,"strokeDash":[10.5,5.8]},"encoding":{"y":{"datum":0.1,"type":"quantitative","scale":{"domain":[0,0.3],"nice":false},"axis":null}}},
{"data":{"name":"ge"},"mark":{"type":"rule","color":"#1c1618","strokeWidth":2.8,"clip":true},"encoding":{"x":{"field":"m","type":"quantitative","scale":{"domain":[14,21],"nice":false},"axis":null},"y":{"field":"lo","type":"quantitative","scale":{"domain":[0,0.3],"nice":false},"axis":null},"y2":{"field":"hi"}}},
{"data":{"name":"ge"},"mark":{"type":"tick","color":"#1c1618","thickness":1.4,"size":9,"orient":"horizontal","clip":true},"encoding":{"x":{"field":"m","type":"quantitative","scale":{"domain":[14,21],"nice":false},"axis":null},"y":{"field":"hi","type":"quantitative","scale":{"domain":[0,0.3],"nice":false},"axis":null}}},
{"data":{"name":"ge"},"mark":{"type":"tick","color":"#1c1618","thickness":1.4,"size":9,"orient":"horizontal","clip":true},"encoding":{"x":{"field":"m","type":"quantitative","scale":{"domain":[14,21],"nice":false},"axis":null},"y":{"field":"lo","type":"quantitative","scale":{"domain":[0,0.3],"nice":false},"axis":null}}},
{"data":{"name":"ge"},"mark":{"type":"point","filled":true,"opacity":1,"color":"#1c1618","size":85,"clip":true},"encoding":{"x":{"field":"m","type":"quantitative","scale":{"domain":[14,21],"nice":false},"axis":{"orient":"top","values":[14,15,16,17,18,19,20,21],"labels":false}},"y":{"field":"p","type":"quantitative","scale":{"domain":[0,0.3],"nice":false},"axis":{"orient":"right","values":[0.1,0.2],"labels":false}}}},
{"data":{"values":[{}]},"mark":{"type":"text","text":"m","font":"Liberation Serif","fontStyle":"italic","fontSize":29,"align":"left","baseline":"alphabetic","color":"#222222"},"encoding":{"x":{"datum":17.166,"type":"quantitative","scale":{"domain":[14,21],"nice":false},"axis":null},"y":{"datum":-0.0451,"type":"quantitative","scale":{"domain":[0,0.3],"nice":false},"axis":null}}},
{"data":{"values":[{}]},"mark":{"type":"text","text":"g","font":"Liberation Serif","fontStyle":"italic","fontSize":16,"align":"left","baseline":"alphabetic","color":"#222222"},"encoding":{"x":{"datum":17.387,"type":"quantitative","scale":{"domain":[14,21],"nice":false},"axis":null},"y":{"datum":-0.051,"type":"quantitative","scale":{"domain":[0,0.3],"nice":false},"axis":null}}},
{"data":{"values":[{}]},"mark":{"type":"text","text":", disk","font":"Liberation Serif","fontSize":17,"align":"left","baseline":"alphabetic","color":"#222222"},"encoding":{"x":{"datum":17.47,"type":"quantitative","scale":{"domain":[14,21],"nice":false},"axis":null},"y":{"datum":-0.051,"type":"quantitative","scale":{"domain":[0,0.3],"nice":false},"axis":null}}},
{"data":{"values":[{}]},"mark":{"type":"text","text":"σ","font":"Liberation Serif","fontStyle":"italic","fontSize":25,"align":"left","baseline":"alphabetic","angle":270,"color":"#222222"},"encoding":{"x":{"datum":13.58,"type":"quantitative","scale":{"domain":[14,21],"nice":false},"axis":null},"y":{"datum":0.109,"type":"quantitative","scale":{"domain":[0,0.3],"nice":false},"axis":null}}},
{"data":{"values":[{}]},"mark":{"type":"text","text":"m","font":"Liberation Serif","fontStyle":"italic","fontSize":18,"align":"left","baseline":"alphabetic","angle":270,"color":"#222222"},"encoding":{"x":{"datum":13.6,"type":"quantitative","scale":{"domain":[14,21],"nice":false},"axis":null},"y":{"datum":0.1275,"type":"quantitative","scale":{"domain":[0,0.3],"nice":false},"axis":null}}},
{"data":{"values":[{}]},"mark":{"type":"text","text":"g","font":"Liberation Serif","fontStyle":"italic","fontSize":12,"align":"left","baseline":"alphabetic","angle":270,"color":"#222222"},"encoding":{"x":{"datum":13.62,"type":"quantitative","scale":{"domain":[14,21],"nice":false},"axis":null},"y":{"datum":0.144,"type":"quantitative","scale":{"domain":[0,0.3],"nice":false},"axis":null}}},
{"data":{"values":[{}]},"mark":{"type":"text","text":", disk","font":"Liberation Serif","fontSize":14,"align":"left","baseline":"alphabetic","angle":270,"color":"#222222"},"encoding":{"x":{"datum":13.62,"type":"quantitative","scale":{"domain":[14,21],"nice":false},"axis":null},"y":{"datum":0.153,"type":"quantitative","scale":{"domain":[0,0.3],"nice":false},"axis":null}}}
]}
]}
